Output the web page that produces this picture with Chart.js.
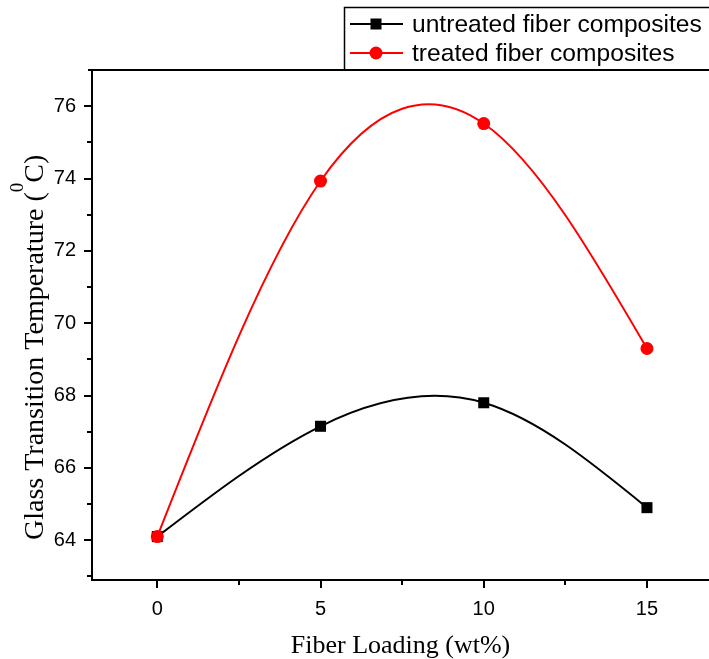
<!DOCTYPE html>
<html>
<head>
<meta charset="utf-8">
<script src="https://cdn.jsdelivr.net/npm/chart.js@4"></script>
<style>
  html, body { margin: 0; padding: 0; background: #fff; }
  #wrap { width: 709px; height: 659px; }
</style>
</head>
<body>
<div id="wrap"><canvas id="chart-area" width="709" height="659"></canvas></div>
<script>
// fiber loading (wt%)
var loading = [0, 5, 10, 15];
// glass transition temperature (degC)
var untreated = [64.1, 67.15, 67.8, 64.9];
var treated = [64.1, 73.93, 75.52, 69.3];
var seriesNames = ['untreated fiber composites', 'treated fiber composites'];
var xTicks = [0, 2.5, 5, 7.5, 10, 12.5, 15];
var yTicks = [63, 64, 65, 66, 67, 68, 69, 70, 71, 72, 73, 74, 75, 76];

function toPoints(ys) {
  return loading.map(function(x, i) { return {x: x, y: ys[i]}; });
}

var sans = 'Arial, "Liberation Sans", sans-serif';
var serif = '"Times New Roman", "Liberation Serif", "DejaVu Serif", serif';

// set the bezier control points so the line follows a natural cubic spline
// through the drawn points (like the "spline" connector of the original plot)
var splineLine = {
  id: 'splineLine',
  beforeDatasetDraw: function(chart, args) {
    var meta = args.meta;
    meta.dataset.updateControlPoints(chart.chartArea, meta.indexAxis);
    var pts = meta.data;
    var n = pts.length;
    if (n < 3) return;
    var h = [], i;
    for (i = 0; i < n - 1; i++) h.push(pts[i + 1].x - pts[i].x);
    // second derivatives, natural end conditions (Thomas algorithm)
    var M = new Array(n).fill(0);
    var a = [], b = [], c = [], d = [];
    for (i = 1; i < n - 1; i++) {
      a.push(h[i - 1]);
      b.push(2 * (h[i - 1] + h[i]));
      c.push(h[i]);
      d.push(6 * ((pts[i + 1].y - pts[i].y) / h[i] - (pts[i].y - pts[i - 1].y) / h[i - 1]));
    }
    var m = b.length;
    for (i = 1; i < m; i++) {
      var w = a[i] / b[i - 1];
      b[i] -= w * c[i - 1];
      d[i] -= w * d[i - 1];
    }
    M[m] = d[m - 1] / b[m - 1];
    for (i = m - 2; i >= 0; i--) M[i + 1] = (d[i] - c[i] * M[i + 2]) / b[i];
    for (i = 0; i < n - 1; i++) {
      var p = pts[i], q = pts[i + 1], hi = h[i];
      var sl = (q.y - p.y) / hi;
      var s0 = sl - hi * (2 * M[i] + M[i + 1]) / 6;
      var s1 = sl + hi * (M[i] + 2 * M[i + 1]) / 6;
      p.cp2x = p.x + hi / 3;
      p.cp2y = p.y + s0 * hi / 3;
      q.cp1x = q.x - hi / 3;
      q.cp1y = q.y - s1 * hi / 3;
    }
  }
};

// draws outward tick marks, the top frame line, y title and the boxed legend
var frameAndLegend = {
  id: 'frameAndLegend',
  afterDraw: function(chart) {
    var ctx = chart.ctx;
    var a = chart.chartArea;
    var xs = chart.scales.x, ys = chart.scales.y;
    ctx.save();
    ctx.strokeStyle = '#000';
    ctx.lineWidth = 2;
    // top line
    ctx.beginPath();
    ctx.moveTo(a.left - 4, a.top);
    ctx.lineTo(a.right, a.top);
    ctx.stroke();
    // x ticks
    xTicks.forEach(function(v) {
      var px = Math.round(xs.getPixelForValue(v));
      var len = (v % 5 === 0) ? 8 : 5;
      ctx.beginPath();
      ctx.moveTo(px, a.bottom);
      ctx.lineTo(px, a.bottom + len);
      ctx.stroke();
    });
    // y ticks
    yTicks.forEach(function(v) {
      var py = Math.round(ys.getPixelForValue(v));
      var len = (v % 2 === 0) ? 8 : 5;
      ctx.beginPath();
      ctx.moveTo(a.left, py);
      ctx.lineTo(a.left - len, py);
      ctx.stroke();
    });

    // y axis title with superscript 0
    ctx.save();
    ctx.translate(43, 540);
    ctx.rotate(-Math.PI / 2);
    ctx.fillStyle = '#000';
    ctx.textBaseline = 'alphabetic';
    ctx.textAlign = 'left';
    var main = 'Glass Transition Temperature (';
    ctx.font = '28px ' + serif;
    ctx.fillText(main, 0, 0);
    var w = ctx.measureText(main).width;
    ctx.font = '19px ' + serif;
    ctx.fillText('0', w, -20);
    w += ctx.measureText('0').width;
    ctx.font = '28px ' + serif;
    ctx.fillText('C)', w, 0);
    ctx.restore();

    // legend box
    ctx.lineWidth = 1.5;
    ctx.fillStyle = '#fff';
    ctx.beginPath();
    ctx.rect(344.5, 7.5, 400, a.top - 7.5);
    ctx.fill();
    ctx.stroke();
    ctx.lineWidth = 2;
    ctx.beginPath();
    ctx.moveTo(344, a.top);
    ctx.lineTo(a.right, a.top);
    ctx.stroke();
    var rows = [24, 53];
    var base = [32, 61];
    chart.data.datasets.forEach(function(ds, i) {
      var y = rows[i];
      ctx.strokeStyle = ds.borderColor;
      ctx.lineWidth = 2;
      ctx.beginPath();
      ctx.moveTo(350, y);
      ctx.lineTo(403, y);
      ctx.stroke();
      ctx.fillStyle = ds.pointBackgroundColor;
      ctx.beginPath();
      if (ds.pointStyle === 'rect') {
        ctx.rect(376 - 5.5, y - 5.5, 11, 11);
      } else {
        ctx.arc(376, y, 6.5, 0, Math.PI * 2);
      }
      ctx.fill();
      ctx.fillStyle = '#000';
      ctx.font = '24.6px ' + sans;
      ctx.textBaseline = 'alphabetic';
      ctx.textAlign = 'left';
      ctx.fillText(ds.label, 412, base[i]);
    });
    ctx.restore();
  }
};

var config = {
  type: 'line',
  data: {
    datasets: [{
      label: seriesNames[0],
      data: toPoints(untreated),
      borderColor: '#000',
      backgroundColor: '#000',
      pointBackgroundColor: '#000',
      pointBorderColor: '#000',
      pointStyle: 'rect',
      pointRadius: 7.8,
      pointBorderWidth: 0,
      borderWidth: 2,
      tension: 0.4,
      order: 1
    }, {
      label: seriesNames[1],
      data: toPoints(treated),
      borderColor: '#ff0000',
      backgroundColor: '#ff0000',
      pointBackgroundColor: '#ff0000',
      pointBorderColor: '#ff0000',
      pointStyle: 'circle',
      pointRadius: 6.5,
      pointBorderWidth: 0,
      borderWidth: 2,
      tension: 0.4,
      order: 0
    }]
  },
  options: {
    responsive: false,
    animation: false,
    devicePixelRatio: 1,
    layout: { autoPadding: false, padding: { top: 70, right: 0, left: 0, bottom: 0 } },
    plugins: {
      legend: { display: false },
      tooltip: { enabled: false }
    },
    scales: {
      x: {
        type: 'linear',
        min: -2,
        max: 16.9,
        afterBuildTicks: function(scale) {
          scale.ticks = xTicks.map(function(v) { return {value: v}; });
        },
        afterFit: function(scale) {
          scale.height = 79;
          scale.paddingLeft = 0;
          scale.paddingRight = 0;
        },
        grid: { display: false, drawTicks: false },
        border: { display: true, color: '#000', width: 2 },
        ticks: {
          color: '#000',
          font: { size: 20, family: sans },
          padding: 17,
          maxRotation: 0,
          callback: function(v) { return v % 5 === 0 ? String(v) : ''; }
        },
        title: {
          display: true,
          text: 'Fiber Loading (wt%)',
          color: '#000',
          font: { size: 26, family: serif, lineHeight: 1 },
          padding: { top: 12, bottom: 0 }
        }
      },
      y: {
        type: 'linear',
        min: 62.9,
        max: 77,
        afterBuildTicks: function(scale) {
          scale.ticks = yTicks.map(function(v) { return {value: v}; });
        },
        afterFit: function(scale) {
          scale.width = 92;
          scale.paddingTop = 0;
          scale.paddingBottom = 0;
        },
        grid: { display: false, drawTicks: false },
        border: { display: true, color: '#000', width: 2 },
        ticks: {
          color: '#000',
          font: { size: 20, family: sans },
          padding: 16,
          callback: function(v) { return (v % 2 === 0 && v >= 64) ? String(v) : ''; }
        },
        title: { display: false }
      }
    }
  },
  plugins: [splineLine, frameAndLegend]
};

window.myLine = new Chart(document.getElementById('chart-area'), config);
</script>
</body>
</html>
